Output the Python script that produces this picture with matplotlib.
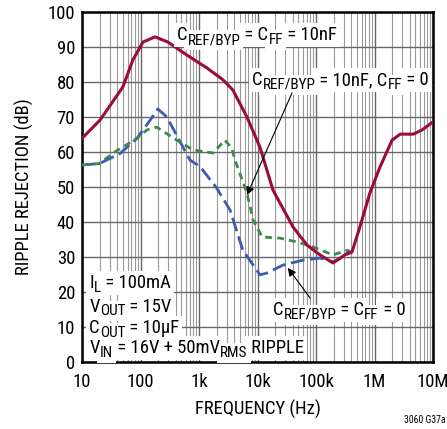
import matplotlib
matplotlib.use('Agg')
import matplotlib.pyplot as plt
from matplotlib import font_manager
from matplotlib.transforms import offset_copy
from matplotlib.ticker import FixedLocator, NullLocator

# pick a condensed face if there is one (the original uses Helvetica Narrow)
names = set(f.name for f in font_manager.fontManager.ttflist)
fam, fs = 'Liberation Sans', 11.5
for cand, size in [('Liberation Sans Narrow', 13.0), ('Roboto Condensed', 13.4),
                   ('Archivo Narrow', 13.2)]:
    if cand in names:
        fam, fs = cand, size
        break
plt.rcParams['font.family'] = [fam, 'DejaVu Sans']

# C_REF/BYP = C_FF = 10nF
f_red = [10, 20.3, 50, 74, 110, 177, 295, 620, 1370, 2580, 3800, 6600, 11000,
         18400, 40400, 70200, 117000, 195000, 313000, 412000, 563000, 835000,
         1.24e6, 2.0e6, 2.74e6, 4.6e6, 6.5e6, 1e7]
db_red = [63.9, 69.1, 78.6, 86.3, 91.4, 92.9, 91.4, 87.7, 84, 80.6, 77.7, 70, 61.4,
          49.1, 38.6, 33.4, 30.6, 28.3, 30.6, 31.4, 38.6, 48.3, 55.7, 63.4, 65.1,
          65.1, 66.3, 68.6]

# C_REF/BYP = C_FF = 0
f_blue = [10, 20, 45, 87, 146, 198, 282, 700, 1050, 2020, 3400, 5600, 11000,
          14400, 27300, 60000, 117000, 195000, 290000, 380000]
db_blue = [56.3, 56.7, 59.6, 63.9, 69.1, 72.3, 70, 57.7, 55.8, 49.6, 43.4, 32,
           24.9, 25.4, 27.7, 29.1, 29.7, 28.6, 30, 32]

# C_REF/BYP = 10nF, C_FF = 0
f_green = [10, 20, 34, 87, 129, 190, 415, 790, 1740, 2760, 3630, 4120, 6600, 8400,
           12000, 24000, 47300, 89000, 195000, 354000]
db_green = [56.3, 56.7, 59.7, 63.9, 66.3, 67.1, 63.4, 60.6, 59.7, 63.4, 61.1, 57.7,
            48.3, 40.6, 35.7, 35.4, 34.3, 32.9, 30.6, 32]

xticks = [10, 100, 1e3, 1e4, 1e5, 1e6, 1e7]
xlabels = ['10', '100', '1k', '10k', '100k', '1M', '10M']
yticks = list(range(0, 101, 10))

fig = plt.figure(figsize=(4.47, 4.29), dpi=100)
ax = fig.add_axes([82 / 447, 67 / 429, 351 / 447, 350 / 429])

ax.plot(f_red, db_red, color='#9E0B3A', lw=2.2, zorder=4, solid_joinstyle='round')
ax.plot(f_blue, db_blue, color='#3D5BAF', lw=2.0, dashes=(5, 2), zorder=3)
ax.plot(f_green, db_green, color='#3C8A4C', lw=2.0, dashes=(2.5, 1.8), zorder=3)

ax.set_xscale('log')
ax.set_xlim(10, 1e7)
ax.set_ylim(0, 100)
ax.xaxis.set_major_locator(FixedLocator(xticks))
ax.set_xticklabels(xlabels)
ax.xaxis.set_minor_locator(NullLocator())
ax.set_yticks(yticks)
ax.tick_params(axis='x', which='both', length=0, labelsize=fs, pad=8)
ax.tick_params(axis='y', which='both', length=0, labelsize=fs, pad=5)
for s in ax.spines.values():
    s.set_linewidth(1.8)

# grid drawn by hand: decades dark, 2..9 lighter, every 10 dB
for d in xticks[:-1]:
    for m in range(2, 10):
        ax.axvline(d * m, color='#999999', lw=0.8, zorder=1)
for d in xticks:
    ax.axvline(d, color='#666666', lw=1.0, zorder=1)
for v in yticks:
    ax.axhline(v, color='#666666', lw=1.0, zorder=1)

ax.set_xlabel('FREQUENCY (Hz)', fontsize=fs, labelpad=6)
ax.set_ylabel('RIPPLE REJECTION (dB)', fontsize=fs, labelpad=10)

renderer = fig.canvas.get_renderer()


def width_of(s, size):
    # measure with guards so spaces at the ends count
    t1 = fig.text(0, 0, '|' + s + '|', fontsize=size)
    t2 = fig.text(0, 0, '||', fontsize=size)
    w = t1.get_window_extent(renderer).width - t2.get_window_extent(renderer).width
    t1.remove()
    t2.remove()
    return w


def rich(x, y, parts, trans):
    # parts: list of (text, is_subscript); starts at x, baseline y
    dx = 0.0
    for s, sub in parts:
        size = fs * 0.82 if sub else fs
        dy = -fs * 0.2 * fig.dpi / 72 if sub else 0
        tr = offset_copy(trans, fig=fig, x=dx, y=dy, units='dots')
        ax.text(x, y, s, transform=tr, fontsize=size, ha='left', va='baseline',
                color='white', zorder=5,
                bbox=dict(facecolor='white', edgecolor='none', pad=2.2))
        ax.text(x, y, s, transform=tr, fontsize=size, ha='left', va='baseline',
                zorder=6)
        dx += width_of(s, size)


rich(421, 91.9, [('C', 0), ('REF/BYP', 1), (' = C', 0), ('FF', 1), (' = 10nF', 0)],
     ax.transData)
rich(8050, 79.1, [('C', 0), ('REF/BYP', 1), (' = 10nF, C', 0), ('FF', 1), (' = 0', 0)],
     ax.transData)
rich(18400, 13.4, [('C', 0), ('REF/BYP', 1), (' = C', 0), ('FF', 1), (' = 0', 0)],
     ax.transData)

rich(13.3, 21.1, [('I', 0), ('L', 1), (' = 100mA', 0)], ax.transData)
rich(13.3, 14.4, [('V', 0), ('OUT', 1), (' = 15V', 0)], ax.transData)
rich(13.3, 8.2, [('C', 0), ('OUT', 1), (' = 10µF', 0)], ax.transData)
rich(13.3, 2.5, [('V', 0), ('IN', 1), (' = 16V + 50mV', 0), ('RMS', 1), (' RIPPLE', 0)],
     ax.transData)

arrow = dict(arrowstyle='-|>', lw=0.8, color='black', mutation_scale=12,
             shrinkA=0, shrinkB=0)
ax.annotate('', xy=(6600, 47.7), xytext=(39000, 76.9), arrowprops=arrow, zorder=7)
ax.annotate('', xy=(33000, 26.9), xytext=(79000, 18.3), arrowprops=arrow, zorder=7)

fig.text(0.998, 0.01, '3060 G37a', ha='right', va='bottom', fontsize=7)

fig.savefig('out.png', dpi=100)
